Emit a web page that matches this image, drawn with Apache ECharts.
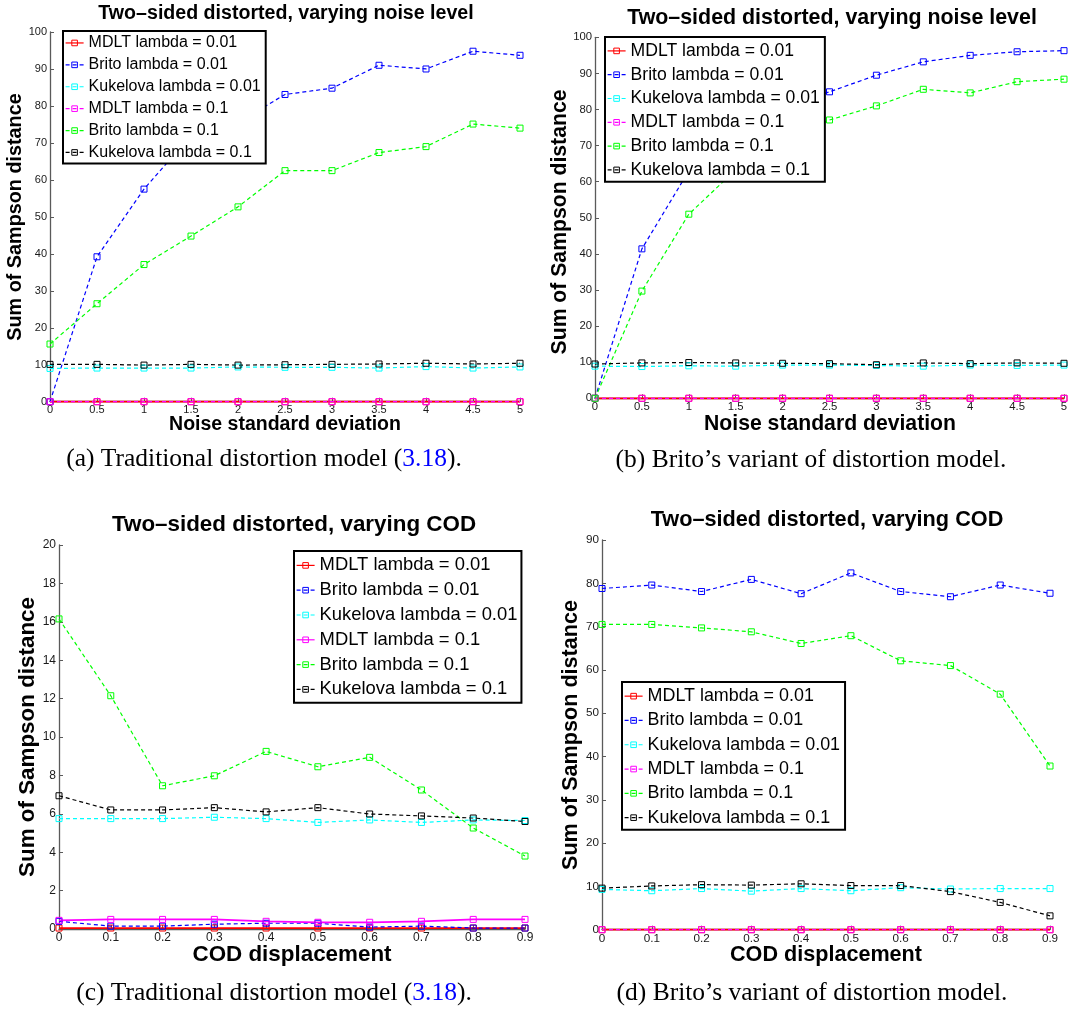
<!DOCTYPE html>
<html>
<head>
<meta charset="utf-8">
<script src="https://cdn.jsdelivr.net/npm/echarts@6/dist/echarts.min.js"></script>
<style>
  html, body { margin: 0; padding: 0; background: #fff; }
  #chart { width: 1090px; height: 1011px; }
</style>
</head>
<body>
<div id="chart"></div>
<script>
// ---- x values ----
const noiseLevels = [0, 0.5, 1, 1.5, 2, 2.5, 3, 3.5, 4, 4.5, 5];
const codShifts = [0, 0.1, 0.2, 0.3, 0.4, 0.5, 0.6, 0.7, 0.8, 0.9];

// ---- series names (same order in every panel) ----
const methodNames = [
  'MDLT lambda = 0.01',
  'Brito lambda = 0.01',
  'Kukelova lambda = 0.01',
  'MDLT lambda = 0.1',
  'Brito lambda = 0.1',
  'Kukelova lambda = 0.1'
];

// ---- (a) traditional model, varying noise ----
const noiseTradMdlt001 = [0, 0, 0, 0, 0, 0, 0, 0, 0, 0, 0];
const noiseTradBrito001 = [0, 39.2, 57.5, 72, 75.5, 83.1, 84.8, 91.0, 90.0, 94.8, 93.7];
const noiseTradKuk001 = [9.0, 9.1, 9.1, 9.1, 9.4, 9.3, 9.3, 9.1, 9.5, 9.1, 9.4];
const noiseTradMdlt01 = [0, 0, 0, 0, 0, 0, 0, 0, 0, 0, 0];
const noiseTradBrito01 = [15.6, 26.5, 37.1, 44.8, 52.7, 62.5, 62.5, 67.4, 69.0, 75.1, 74.0];
const noiseTradKuk01 = [10.1, 10.1, 9.9, 10.1, 9.9, 10.0, 10.1, 10.2, 10.4, 10.2, 10.4];

// ---- (b) Brito model, varying noise ----
const noiseBritoMdlt001 = [0, 0, 0, 0, 0, 0, 0, 0, 0, 0, 0];
const noiseBritoBrito001 = [0, 41.4, 63, 74, 80.5, 84.9, 89.5, 93.2, 95.0, 96.0, 96.3];
const noiseBritoKuk001 = [8.9, 8.8, 9.0, 8.9, 9.2, 9.2, 9.1, 8.9, 9.2, 9.1, 9.2];
const noiseBritoMdlt01 = [0, 0, 0, 0, 0, 0, 0, 0, 0, 0, 0];
const noiseBritoBrito01 = [0, 29.7, 51.0, 63.3, 71, 77.1, 81.0, 85.6, 84.6, 87.7, 88.4];
const noiseBritoKuk01 = [9.5, 9.8, 9.9, 9.8, 9.7, 9.6, 9.3, 9.8, 9.6, 9.8, 9.7];

// ---- (c) traditional model, varying COD ----
const codTradMdlt001 = [0.05, 0.05, 0.05, 0.05, 0.05, 0.05, 0.05, 0.05, 0.05, 0.05];
const codTradBrito001 = [0.4, 0.15, 0.15, 0.25, 0.3, 0.3, 0.1, 0.15, 0.05, 0.05];
const codTradKuk001 = [5.75, 5.75, 5.75, 5.82, 5.75, 5.55, 5.68, 5.55, 5.68, 5.65];
const codTradMdlt01 = [0.45, 0.5, 0.5, 0.5, 0.4, 0.35, 0.35, 0.4, 0.5, 0.5];
const codTradBrito01 = [16.15, 12.15, 7.46, 7.98, 9.25, 8.45, 8.94, 7.24, 5.26, 3.8];
const codTradKuk01 = [6.94, 6.2, 6.2, 6.32, 6.1, 6.32, 5.99, 5.89, 5.78, 5.6];

// ---- (d) Brito model, varying COD ----
const codBritoMdlt001 = [0, 0, 0, 0, 0, 0, 0, 0, 0, 0];
const codBritoBrito001 = [78.8, 79.6, 78.1, 80.9, 77.6, 82.4, 78.1, 76.9, 79.6, 77.7];
const codBritoKuk001 = [9.3, 9.0, 9.5, 8.9, 9.5, 9.0, 9.7, 9.4, 9.5, 9.5];
const codBritoMdlt01 = [0, 0, 0, 0, 0, 0, 0, 0, 0, 0];
const codBritoBrito01 = [70.5, 70.5, 69.7, 68.8, 66.1, 67.9, 62.1, 61.0, 54.4, 37.8];
const codBritoKuk01 = [9.6, 10.1, 10.4, 10.3, 10.6, 10.2, 10.2, 8.8, 6.3, 3.2];

// ---- styling ----
const lineColors = ['#ff0000', '#0000ff', '#00ffff', '#ff00ff', '#00ff00', '#000000'];
const SANS = 'Liberation Sans, Arial, Helvetica, sans-serif';
const SERIF = '"Liberation Serif", "Times New Roman", serif';

const panels = [
  {
    key: 'a', x: noiseLevels, xMax: 5, xStep: 0.5, yMax: 100, yStep: 10,
    values: [noiseTradMdlt001, noiseTradBrito001, noiseTradKuk001, noiseTradMdlt01, noiseTradBrito01, noiseTradKuk01],
    solid: [true, false, false, false, false, false],
    grid: { left: 50, top: 32, width: 470, height: 369.7 },
    tickFont: 11,
    legend: { left: 63, top: 31, font: 16, pitch: 21.9, padding: [2, 5, 1, 2] },
    title: { text: 'Two–sided distorted, varying noise level', x: 286, y: 13.7, size: 19.6 },
    xName: { text: 'Noise standard deviation', x: 285, y: 424.5, size: 19.5 },
    yName: { x: 15.8, y: 217, size: 19.8 },
    caption: { text: '(a) Traditional distortion model ({ref|3.18}).', x: 264, y: 459 }
  },
  {
    key: 'b', x: noiseLevels, xMax: 5, xStep: 0.5, yMax: 100, yStep: 10,
    values: [noiseBritoMdlt001, noiseBritoBrito001, noiseBritoKuk001, noiseBritoMdlt01, noiseBritoBrito01, noiseBritoKuk01],
    solid: [true, false, false, false, false, false],
    grid: { left: 595, top: 37.3, width: 469, height: 361 },
    tickFont: 11.3,
    legend: { left: 605, top: 37, font: 17.6, pitch: 23.8, padding: [3, 5, 1, 2] },
    title: { text: 'Two–sided distorted, varying noise level', x: 832, y: 18, size: 21.4 },
    xName: { text: 'Noise standard deviation', x: 830, y: 424, size: 21.2 },
    yName: { x: 560, y: 222, size: 21.2 },
    caption: { text: '(b) Brito’s variant of distortion model.', x: 811, y: 460 }
  },
  {
    key: 'c', x: codShifts, xMax: 0.9, xStep: 0.1, yMax: 20, yStep: 2,
    values: [codTradMdlt001, codTradBrito001, codTradKuk001, codTradMdlt01, codTradBrito01, codTradKuk01],
    solid: [true, false, false, true, false, false],
    grid: { left: 59, top: 545, width: 466, height: 384 },
    tickFont: 12,
    legend: { left: 294, top: 551, font: 18.4, pitch: 24.8, padding: [3, 4, 2, 2] },
    title: { text: 'Two–sided distorted, varying COD', x: 294, y: 525, size: 22.4 },
    xName: { text: 'COD displacement', x: 292, y: 954.7, size: 22.4 },
    yName: { x: 28, y: 737, size: 22.4 },
    caption: { text: '(c) Traditional distortion model ({ref|3.18}).', x: 274, y: 993 }
  },
  {
    key: 'd', x: codShifts, xMax: 0.9, xStep: 0.1, yMax: 90, yStep: 10,
    values: [codBritoMdlt001, codBritoBrito001, codBritoKuk001, codBritoMdlt01, codBritoBrito01, codBritoKuk01],
    solid: [true, false, false, false, false, false],
    grid: { left: 602, top: 540, width: 448, height: 389.7 },
    tickFont: 11.7,
    legend: { left: 622, top: 682, font: 17.9, pitch: 24.3, padding: [3, 5, 1, 2] },
    title: { text: 'Two–sided distorted, varying COD', x: 827, y: 520.5, size: 21.7 },
    xName: { text: 'COD displacement', x: 826, y: 955, size: 21.6 },
    yName: { x: 571, y: 735, size: 21.6 },
    caption: { text: '(d) Brito’s variant of distortion model.', x: 812, y: 993 }
  }
];

const grids = [], xAxes = [], yAxes = [], series = [], legends = [], graphics = [];

panels.forEach((p, i) => {
  grids.push(Object.assign({ containLabel: false }, p.grid));

  const axisCommon = {
    gridIndex: i,
    type: 'value',
    min: 0,
    axisLine: { show: true, onZero: false, lineStyle: { color: '#5a5a5a', width: 1.3 } },
    axisTick: { show: true, inside: true, length: 4, lineStyle: { color: '#5a5a5a', width: 1 } },
    splitLine: { show: false },
    axisLabel: { fontFamily: SANS, fontSize: p.tickFont, color: '#1a1a1a', margin: 3,
      formatter: v => String(+v.toFixed(2)) }
  };
  xAxes.push(Object.assign({}, axisCommon, { max: p.xMax, interval: p.xStep }));
  yAxes.push(Object.assign({}, axisCommon, { max: p.yMax, interval: p.yStep }));

  methodNames.forEach((name, k) => {
    const c = lineColors[k];
    const solid = p.solid[k];
    series.push({
      type: 'line',
      name: name + '#' + p.key,
      xAxisIndex: i,
      yAxisIndex: i,
      data: p.x.map((xv, j) => [xv, p.values[k][j]]),
      symbol: 'rect',
      symbolSize: 6,
      showSymbol: true,
      clip: false,
      animation: false,
      silent: true,
      lineStyle: { color: c, width: solid ? 1.8 : 1.2, type: solid ? 'solid' : [4, 3] },
      itemStyle: { color: 'rgba(0,0,0,0)', borderColor: c, borderWidth: 1 },
      emphasis: { disabled: true }
    });
  });

  legends.push({
    orient: 'vertical',
    left: p.legend.left,
    top: p.legend.top,
    padding: p.legend.padding,
    itemWidth: 18,
    itemHeight: 7,
    itemGap: 2,
    selectedMode: false,
    backgroundColor: '#fff',
    borderColor: '#000',
    borderWidth: 2,
    itemStyle: { borderWidth: 1 },
    lineStyle: { width: 1.2 },
    data: methodNames.map(n => n + '#' + p.key),
    formatter: n => n.split('#')[0],
    textStyle: { fontFamily: SANS, fontSize: p.legend.font, color: '#000', lineHeight: p.legend.pitch - 2 }
  });

  graphics.push({
    type: 'text', x: p.title.x, y: p.title.y, silent: true,
    style: { text: p.title.text, font: 'bold ' + p.title.size + 'px ' + SANS, fill: '#000', align: 'center', verticalAlign: 'middle' }
  });
  graphics.push({
    type: 'text', x: p.xName.x, y: p.xName.y, silent: true,
    style: { text: p.xName.text, font: 'bold ' + p.xName.size + 'px ' + SANS, fill: '#000', align: 'center', verticalAlign: 'middle' }
  });
  graphics.push({
    type: 'text', x: p.yName.x, y: p.yName.y, rotation: Math.PI / 2, silent: true,
    style: { text: 'Sum of Sampson distance', font: 'bold ' + p.yName.size + 'px ' + SANS, fill: '#000', align: 'center', verticalAlign: 'middle' }
  });
  const capFont = '25.5px ' + SERIF;
  graphics.push({
    type: 'text', x: p.caption.x, y: p.caption.y, silent: true,
    style: {
      text: p.caption.text, font: capFont, fill: '#000', align: 'center', verticalAlign: 'middle',
      rich: { ref: { font: capFont, fill: '#0000ff' } }
    }
  });
});

const chart = echarts.init(document.getElementById('chart'), null, { renderer: 'canvas' });
chart.setOption({
  backgroundColor: '#ffffff',
  animation: false,
  grid: grids,
  xAxis: xAxes,
  yAxis: yAxes,
  legend: legends,
  series: series,
  graphic: graphics
});
</script>
</body>
</html>
